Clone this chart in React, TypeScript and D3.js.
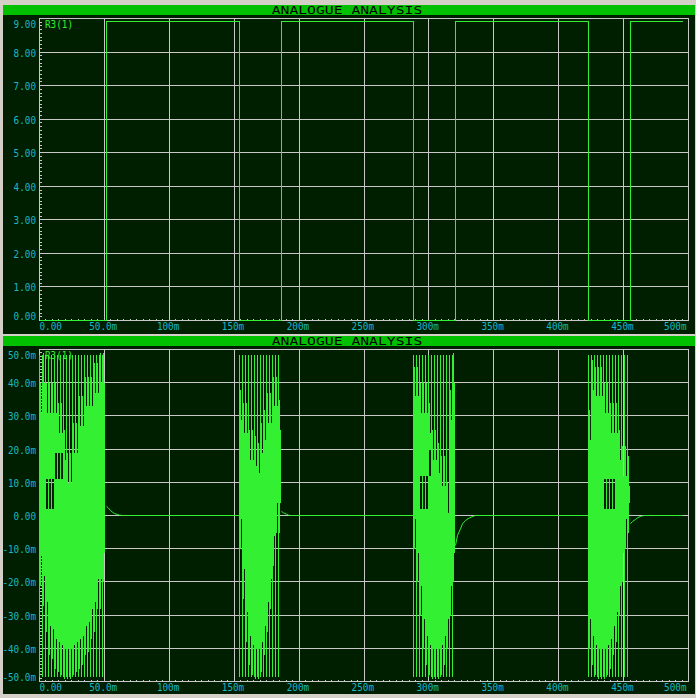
import React from 'react';
import * as d3 from 'd3';

// ---------- data ----------
const xTickValues = [0, 50, 100, 150, 200, 250, 300, 350, 400, 450, 500];
const xTickLabels = ['0.00', '50.0m', '100m', '150m', '200m', '250m', '300m', '350m', '400m', '450m', '500m'];
const topYTicks = [0, 1, 2, 3, 4, 5, 6, 7, 8, 9];
const topYLabels = ['0.00', '1.00', '2.00', '3.00', '4.00', '5.00', '6.00', '7.00', '8.00', '9.00'];
const botYTicks = [-50, -40, -30, -20, -10, 0, 10, 20, 30, 40, 50];
const botYLabels = ['-50.0m', '-40.0m', '-30.0m', '-20.0m', '-10.0m', '0.00', '10.0m', '20.0m', '30.0m', '40.0m', '50.0m'];

const titleText = 'ANALOGUE ANALYSIS';
const traceName = 'R3(1)';

// top trace (digital level, V) – step changes
const digitalTimes = [0, 51.6, 154.1, 186.4, 288.1, 320.5, 423.0, 455.3, 495];
const digitalValues = [0, 8.91, 0, 8.91, 0, 8.91, 0, 8.91, 8.91];

// bottom trace bursts: per cycle [top, bottom, gapLow, gapHigh] (mV)
const burstStarts = [0, 154.1, 288.1, 423.0];
const burst1: number[][] = [
  [40, -21, 0, 0], [49, -27, 0, 0], [40, -35, 2, 11], [40, -42, 2, 11], [40, -43, 2, 11],
  [40, -46, 11, 19], [34, -47, 11, 19], [34, -48, 11, 19], [26, -49, 0, 0], [19, -49, 0, 0],
  [19, -49, 0, 0], [28, -48, 0, 0], [28, -47, 0, 0], [36, -46, 0, 0], [36, -45, 0, 0],
  [42, -42, 0, 0], [42, -41, 0, 0], [42, -37, 0, 0], [46, -35, 0, 0], [46, -28, 0, 0],
  [49, -28, 0, 0], [49, -20, 0, 0],
];
const burst2: number[][] = [
  [38, -10, 0, 0], [34, -25, 0, 0], [34, -38, 0, 0], [26, -45, 0, 0], [26, -48, 0, 0],
  [24, -49, 0, 0], [22, -49, 0, 0], [28, -47, 0, 0], [32, -42, 0, 0], [37, -35, 0, 0],
  [37, -28, 0, 0], [42, -15, 0, 0], [42, -5, 0, 0], [35, -5, 0, 0],
];
const burst3: number[][] = [
  [45, -10, 0, 0], [45, -20, 0, 0], [40, -30, 2, 12], [40, -40, 2, 12], [40, -45, 2, 12],
  [34, -48, 12, 20], [26, -49, 0, 0], [26, -49, 0, 0], [22, -49, 0, 0], [18, -48, 0, 0],
  [18, -45, 0, 0], [10, -40, 0, 0], [38, -30, 0, 0], [49, -20, 0, 0],
];
const burst4: number[][] = [
  [32, -40, 0, 0], [47, -45, 0, 0], [45, -48, 0, 0], [45, -49, 0, 0], [45, -49, 0, 0],
  [40, -49, 2, 11], [40, -48, 2, 11], [34, -46, 2, 11], [34, -42, 2, 11], [34, -38, 0, 0],
  [26, -30, 0, 0], [21, -20, 0, 0], [21, -10, 0, 0], [18, -5, 0, 0],
];
const bursts = [burst1, burst2, burst3, burst4];
// second sub-column of each cycle sits inside the first by this much (mV)
const innerInset = 9;

// decay tails after each burst [time ms, value mV]
const tail1 = [[51.6, 2.8], [53, 2.2], [54.5, 1.5], [56, 1.0], [58, 0.6], [60, 0.3], [62, 0.1], [64, 0]];
const tail2 = [[186.4, 1.2], [188, 0.8], [190, 0.4], [192, 0.1], [193, 0]];
const tail3 = [[320.5, -9], [322, -6], [324, -4], [326, -2.5], [328, -1.5], [331, -0.7], [334, -0.2], [336, 0]];
const tail4 = [[455.3, -2.5], [457, -1.8], [459, -1.2], [461, -0.7], [463, -0.3], [465, 0]];
const tails = [tail1, tail2, tail3, tail4];
const traceEnd = 495;
const burstPeak = 48.6;

// ---------- styling ----------
const BG = '#d4d0c8';
const PANEL = '#001f00';
const TITLE = '#00c000';
const GRID = '#c8c8c8';
const LABEL = '#18b8c8';
const TRACE = '#33f033';
const FONT = '"DejaVu Sans Mono", "Liberation Mono", monospace';
const CHAR_W = 5.6;

export default function App() {
  const x = d3.scaleLinear().domain([0, 500]).range([39.5, 688.5]);
  const yT = d3.scaleLinear().domain([0, 9]).range([320.5, 18.5]);
  const yB = d3.scaleLinear().domain([-50, 50]).range([681.5, 349.5]);
  const px = (t: number) => Math.round(x(t) - 0.5) + 0.5;
  const pyT = (v: number) => Math.round(yT(v) - 0.5) + 0.5;
  const pyB = (v: number) => Math.round(yB(v) - 0.5) + 0.5;

  const cycleMs = 3 / 1.298;

  const digitalLine = d3
    .line<number>()
    .x((_, i) => px(digitalTimes[i]))
    .y((d) => pyT(d))
    .curve(d3.curveStepAfter);
  const digitalPath = digitalLine(digitalValues) || '';

  const polyPoints: number[][] = [];
  tails.forEach((tail, i) => {
    tail.forEach((p) => polyPoints.push(p));
    const nextStart = i < burstStarts.length - 1 ? burstStarts[i + 1] : traceEnd;
    polyPoints.push([nextStart, 0]);
    polyPoints.push([NaN, NaN]);
  });
  const tailLine = d3
    .line<number[]>()
    .defined((d) => !isNaN(d[0]))
    .x((d) => px(d[0]))
    .y((d) => yB(d[1]));
  const tailPath = tailLine(polyPoints) || '';

  const cols: { t: number; lo: number; hi: number }[] = [];
  bursts.forEach((cycles, bi) => {
    const start = burstStarts[bi];
    cycles.forEach(([top, bottom, gLo, gHi], k) => {
      const t0 = start + k * cycleMs;
      cols.push({ t: t0, lo: -burstPeak, hi: burstPeak });
      [1, 2].forEach((j) => {
        const t = t0 + (j * cycleMs) / 3;
        const tp = j === 1 ? top : Math.max(top - innerInset, bottom);
        const bt = j === 1 ? bottom : Math.min(bottom + innerInset, tp);
        if (gHi > gLo) {
          cols.push({ t, lo: bt, hi: gLo });
          cols.push({ t, lo: gHi, hi: tp });
        } else {
          cols.push({ t, lo: bt, hi: tp });
        }
      });
    });
  });

  const minorX = d3.range(0, 500.01, 5);
  const minorYT = d3.range(0, 9.001, 1 / 9);
  const minorYB = d3.range(-50, 50.01, 1);

  const textProps = (s: string) => ({
    fontFamily: FONT,
    fontSize: 10,
    textLength: s.length * CHAR_W,
    lengthAdjust: 'spacingAndGlyphs' as const,
  });

  const xLabelX = (i: number) => {
    if (i === 0) return { x: x(0), anchor: 'start' };
    if (i === xTickValues.length - 1) return { x: x(500) - 2, anchor: 'end' };
    return { x: x(xTickValues[i]) - 1.2, anchor: 'middle' };
  };

  const renderFrame = (
    yScale: (v: number) => number,
    yTicks: number[],
    yLabels: string[],
    minorY: number[],
    titleBarY: number,
    panelTop: number,
    panelBottom: number,
    xLabelBase: number,
    key: string
  ) => {
    const rowOf = (v: number) => Math.round(yScale(v) - 0.5) + 0.5;
    const yTop = rowOf(yTicks[yTicks.length - 1]);
    const yBot = rowOf(yTicks[0]);
    return (
      <g key={key}>
        <rect x={3} y={panelTop} width={692} height={panelBottom - panelTop} fill={PANEL} />
        <rect x={3} y={titleBarY} width={692} height={10} fill={TITLE} />
        <text
          x={271.7}
          y={titleBarY + 9}
          fill="#000"
          fontFamily={FONT}
          fontSize={10}
          textLength={150.6}
          lengthAdjust="spacingAndGlyphs"
        >
          {titleText}
        </text>
        {yTicks.map((v) => (
          <line key={'h' + v} x1={39} x2={689} y1={rowOf(v)} y2={rowOf(v)} stroke={GRID} shapeRendering="crispEdges" />
        ))}
        {xTickValues.map((t) => (
          <line key={'v' + t} x1={px(t)} x2={px(t)} y1={yTop - 1} y2={yBot} stroke={GRID} shapeRendering="crispEdges" />
        ))}
        {minorX.map((t) => (
          <line key={'mx' + t} x1={px(t)} x2={px(t)} y1={yBot - 2} y2={yBot} stroke={GRID} shapeRendering="crispEdges" />
        ))}
        {minorY.map((v, i) => (
          <line key={'my' + i} x1={40} x2={42} y1={rowOf(v)} y2={rowOf(v)} stroke={GRID} shapeRendering="crispEdges" />
        ))}
        {yTicks.map((v, i) => {
          let base = rowOf(v) + 4;
          if (i === yTicks.length - 1) base = yTop + 9;
          if (i === 0) base = yBot - 1;
          const s = yLabels[i];
          return (
            <text key={'yl' + v} x={36} y={base} fill={LABEL} textAnchor="end" {...textProps(s)}>
              {s}
            </text>
          );
        })}
        {xTickValues.map((t, i) => {
          const s = xTickLabels[i];
          const p = xLabelX(i);
          return (
            <text key={'xl' + t} x={p.x} y={xLabelBase} fill={LABEL} textAnchor={p.anchor as any} {...textProps(s)}>
              {s}
            </text>
          );
        })}
        <text x={45} y={yTop + 9} fill={TRACE} {...textProps(traceName)}>
          {traceName}
        </text>
      </g>
    );
  };

  return (
    <svg
      width={696}
      height={698}
      viewBox="0 0 696 698"
      style={{ position: 'absolute', left: 0, top: 0, display: 'block' }}
    >
      <rect x={0} y={0} width={696} height={698} fill={BG} />
      {renderFrame(yT, topYTicks, topYLabels, minorYT, 5, 5, 334, 330, 'top')}
      {renderFrame(yB, botYTicks, botYLabels, minorYB, 336, 336, 694, 691, 'bot')}
      <path d={digitalPath} fill="none" stroke={TRACE} strokeWidth={1} shapeRendering="crispEdges" />
      <path d={tailPath} fill="none" stroke={TRACE} strokeWidth={1} />
      {cols.map((c, i) => (
        <line
          key={'c' + i}
          x1={px(c.t)}
          x2={px(c.t)}
          y1={pyB(c.lo)}
          y2={pyB(c.hi)}
          stroke={TRACE}
          strokeWidth={1}
          shapeRendering="crispEdges"
        />
      ))}
    </svg>
  );
}
